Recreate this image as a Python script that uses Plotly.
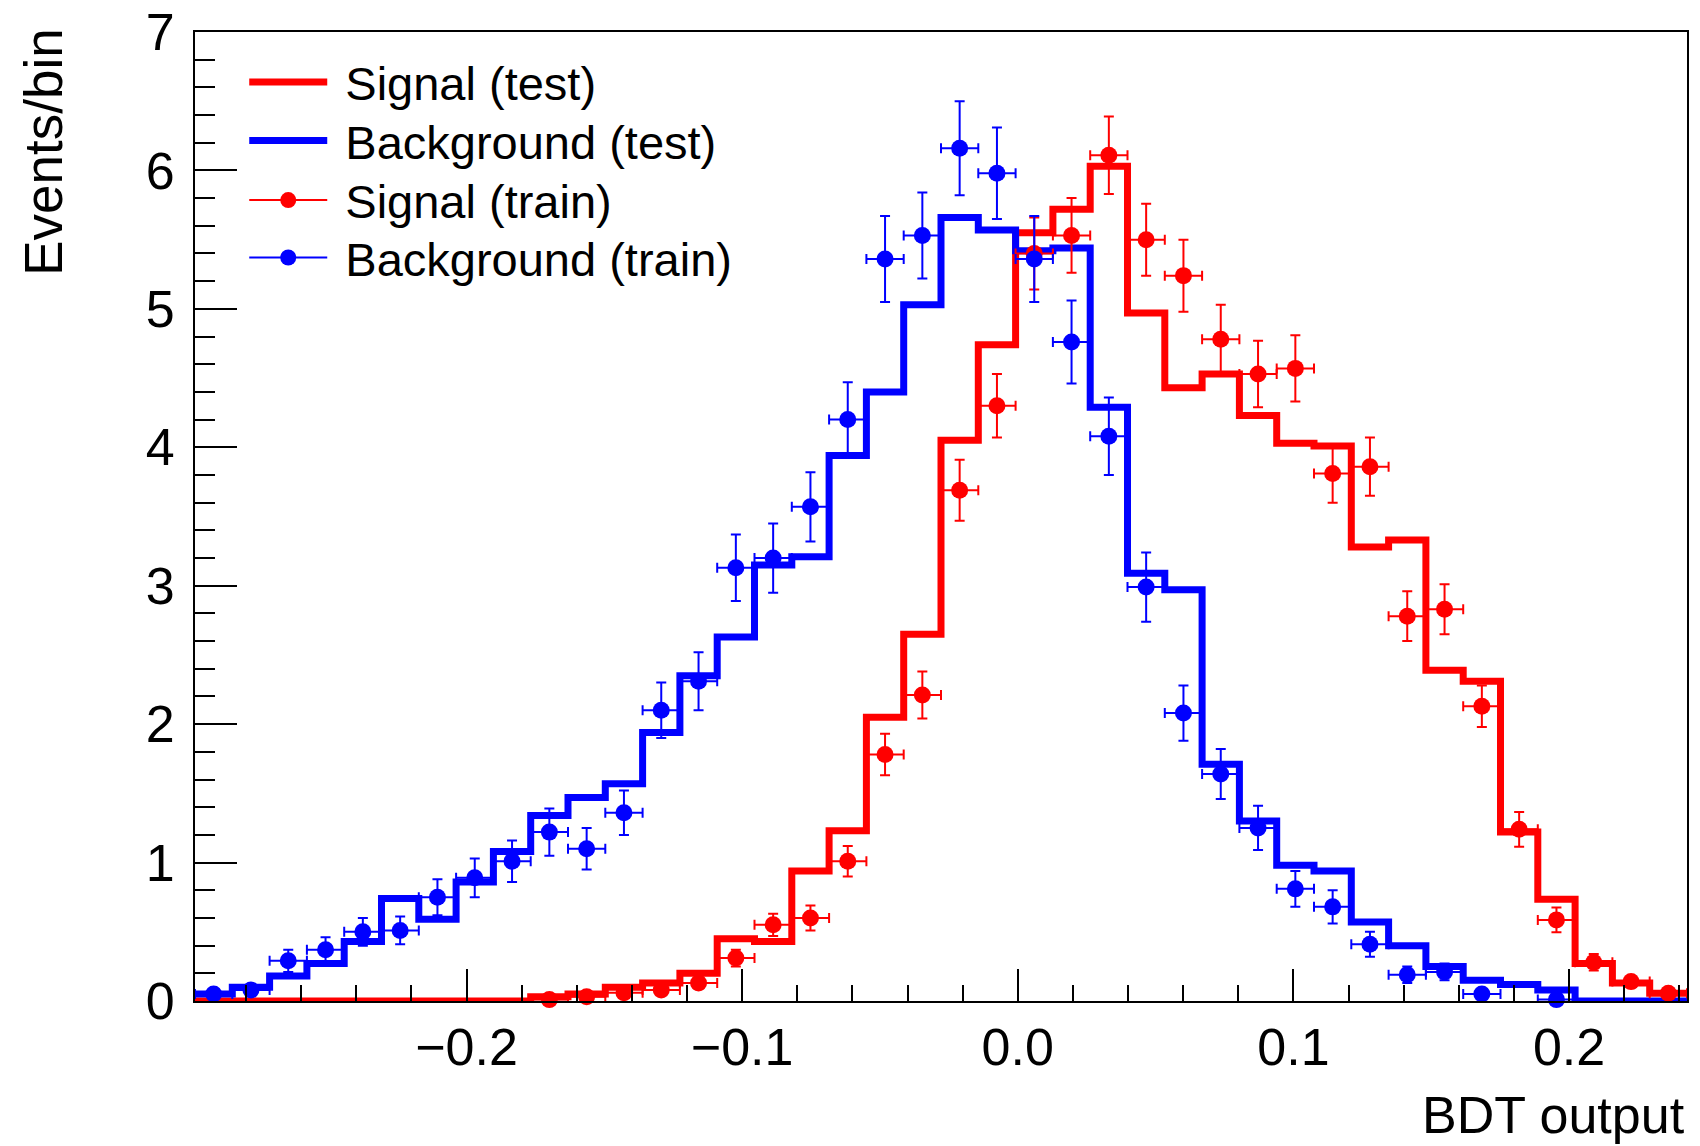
import numpy as np
import plotly.graph_objects as go

# ---------------- data ----------------
x_min = -0.2985
x_max = 0.2428
n_bins = 40

sig_test = [0.0, 0.0, 0.0, 0.0, 0.0, 0.0, 0.0, 0.0, 0.0, 0.03,
            0.05, 0.10, 0.13, 0.20, 0.45, 0.43, 0.94, 1.23, 2.05, 2.65,
            4.05, 4.74, 5.55, 5.72, 6.03, 4.97, 4.43, 4.53, 4.23, 4.03,
            4.01, 3.28, 3.33, 2.39, 2.31, 1.22, 0.735, 0.27, 0.13, 0.056]

bkg_test = [0.05, 0.10, 0.18, 0.27, 0.43, 0.74, 0.59, 0.86, 1.08, 1.34,
            1.47, 1.57, 1.94, 2.35, 2.63, 3.15, 3.21, 3.94, 4.40, 5.03,
            5.66, 5.57, 5.42, 5.44, 4.29, 3.09, 2.97, 1.71, 1.30, 0.98,
            0.94, 0.57, 0.40, 0.25, 0.15, 0.12, 0.08, 0.0, 0.0, 0.0]

sig_train = [None, None, None, None, None, None, None, None, None, 0.01,
             0.03, 0.06, 0.08, 0.13, 0.31, 0.55, 0.60, 1.01, 1.78, 2.21,
             3.69, 4.30, 5.40, 5.53, 6.11, 5.50, 5.24, 4.78, 4.53, 4.57,
             3.81, 3.86, 2.78, 2.83, 2.13, 1.24, 0.586, 0.28, 0.14, 0.056]
sig_train_err = [0, 0, 0, 0, 0, 0, 0, 0, 0, 0.01,
                 0.02, 0.03, 0.03, 0.04, 0.06, 0.08, 0.09, 0.11, 0.15, 0.17,
                 0.22, 0.23, 0.26, 0.27, 0.28, 0.26, 0.26, 0.25, 0.24, 0.24,
                 0.21, 0.21, 0.18, 0.18, 0.15, 0.125, 0.09, 0.06, 0.04, 0.03]

bkg_train = [0.05, 0.08, 0.29, 0.37, 0.50, 0.51, 0.75, 0.89, 1.01, 1.22,
             1.10, 1.36, 2.10, 2.31, 3.13, 3.20, 3.57, 4.20, 5.36, 5.53,
             6.16, 5.98, 5.36, 4.76, 4.08, 2.99, 2.08, 1.64, 1.25, 0.81,
             0.68, 0.41, 0.19, 0.21, 0.05, None, 0.01, None, None, None]
bkg_train_err = [0.03, 0.04, 0.08, 0.09, 0.10, 0.10, 0.13, 0.14, 0.15, 0.17,
                 0.15, 0.16, 0.20, 0.21, 0.24, 0.25, 0.25, 0.27, 0.31, 0.31,
                 0.34, 0.33, 0.31, 0.30, 0.28, 0.25, 0.20, 0.18, 0.16, 0.13,
                 0.12, 0.09, 0.06, 0.06, 0.03, 0, 0.014, 0, 0, 0]

x_title = "BDT output"
y_title = "Events/bin"
legend_names = ["Signal (test)", "Background (test)", "Signal (train)", "Background (train)"]

RED = "#ff0000"
BLUE = "#0000ff"
FONT = "Liberation Sans, Arial, Helvetica, sans-serif"

# ---------------- derived ----------------
edges = np.linspace(x_min, x_max, n_bins + 1)
centers = 0.5 * (edges[:-1] + edges[1:])
half_w = 0.5 * (edges[1] - edges[0])


def step_y(vals):
    return list(vals) + [vals[-1]]


def leg(name):
    return "\u00a0" + name


legend_ids = ["legend", "legend2", "legend3", "legend4"]
legend_y = [0.9480, 0.8876, 0.8261, 0.7668]

fig = go.Figure()

# test histograms (step lines)
fig.add_trace(go.Scatter(x=edges, y=step_y(sig_test), mode="lines",
                         line=dict(color=RED, width=7, shape="hv"),
                         name=leg(legend_names[0]), showlegend=True,
                         legend=legend_ids[0]))
fig.add_trace(go.Scatter(x=edges, y=step_y(bkg_test), mode="lines",
                         line=dict(color=BLUE, width=7, shape="hv"),
                         name=leg(legend_names[1]), showlegend=True,
                         legend=legend_ids[1]))

# training points with error bars
for vals, errs, col in [(sig_train, sig_train_err, RED), (bkg_train, bkg_train_err, BLUE)]:
    fig.add_trace(go.Scatter(
        x=centers, y=vals, mode="markers",
        marker=dict(color=col, size=17, symbol="circle"),
        error_x=dict(type="constant", value=half_w, width=5, thickness=2, color=col),
        error_y=dict(type="data", array=errs, width=5, thickness=2, color=col),
        cliponaxis=False, showlegend=False, hoverinfo="x+y"))

# legend entries for the training samples
for name, col, lid in [(legend_names[2], RED, legend_ids[2]),
                       (legend_names[3], BLUE, legend_ids[3])]:
    fig.add_trace(go.Scatter(x=[None], y=[None], mode="lines+markers",
                             line=dict(color=col, width=2),
                             marker=dict(color=col, size=17),
                             name=leg(name), showlegend=True, legend=lid))

tickfont = dict(family=FONT, size=52, color="black")

legend_style = dict(x=0.033, xanchor="left", yanchor="middle",
                    font=dict(family=FONT, size=47, color="black"),
                    bgcolor="rgba(0,0,0,0)", borderwidth=0, itemwidth=78)

fig.update_layout(
    width=1700, height=1146,
    margin=dict(l=195, r=13, t=32, b=145, autoexpand=False),
    paper_bgcolor="white", plot_bgcolor="white",
    font=dict(family=FONT, color="black"),
    showlegend=True,
    xaxis=dict(range=[x_min, x_max], showgrid=False, zeroline=False,
               automargin=False,
               showline=True, linecolor="black", linewidth=2, mirror=True,
               ticks="inside", ticklen=32, tickwidth=2, tickcolor="black",
               tick0=0, dtick=0.1, tickformat=".1f", tickfont=tickfont,
               minor=dict(ticks="inside", tick0=0, dtick=0.02, ticklen=16,
                          tickwidth=2, tickcolor="black", showgrid=False)),
    yaxis=dict(range=[0, 7], showgrid=False, zeroline=False,
               automargin=False,
               showline=True, linecolor="black", linewidth=2, mirror=True,
               ticks="inside", ticklen=42, tickwidth=2, tickcolor="black",
               tick0=0, dtick=1, tickfont=tickfont, ticklabelstandoff=8,
               minor=dict(ticks="inside", tick0=0, dtick=0.2, ticklen=20,
                          tickwidth=2, tickcolor="black", showgrid=False)),
    annotations=[
        dict(text=x_title, xref="paper", yref="paper", x=1.0, y=-0.118,
             xanchor="right", yanchor="middle", showarrow=False,
             font=dict(family=FONT, size=52, color="black")),
        dict(text=y_title, xref="paper", yref="paper", x=-0.1015, y=1.0055,
             xanchor="center", yanchor="top", textangle=-90, showarrow=False,
             font=dict(family=FONT, size=53, color="black")),
    ],
)
for lid, ly in zip(legend_ids, legend_y):
    fig.update_layout({lid: dict(legend_style, y=ly)})

fig.write_html("out.html", config={"displayModeBar": False},
               post_script="document.body.style.margin='0';document.body.style.overflow='hidden';")
